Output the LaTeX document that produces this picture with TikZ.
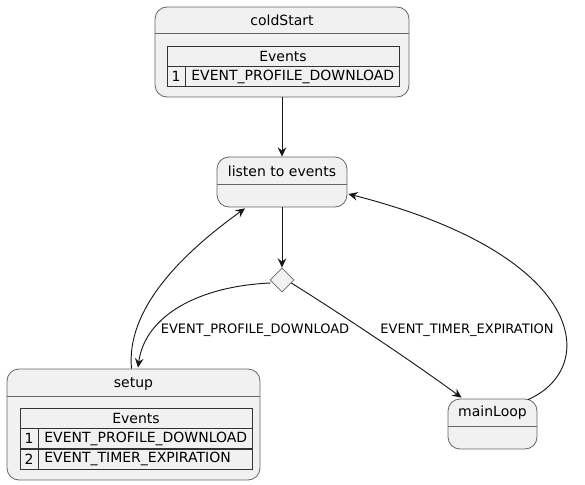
\documentclass[tikz,border=0pt]{standalone}
\usepackage{fontspec}
\setmainfont{DejaVu Sans}
\usepackage{xcolor}
\usetikzlibrary{shapes.geometric,arrows.meta,positioning,calc}
\definecolor{stategray}{HTML}{F1F1F1}
\definecolor{edgegray}{HTML}{181818}

\begin{document}
\begin{tikzpicture}[x=0.75pt, y=-0.75pt,
		state/.style={rectangle, draw=black!60, fill=stategray, line width=0.6pt, rounded corners=9pt, inner sep=0pt},
		sep/.style={draw=black!60, line width=0.6pt},
		title/.style={inner sep=0pt, font=\fontsize{10.5}{12}\selectfont},
		cell/.style={rectangle, draw=black!80, fill=stategray, line width=0.5pt, minimum height=15pt, inner sep=0pt, font=\fontsize{10.5}{12}\selectfont},
		celltext/.style={cell, text width=152pt, inner xsep=4.25pt, align=left},
		choicebox/.style={diamond, draw=black!60, fill=stategray, line width=0.6pt, minimum width=18pt, minimum height=18pt, inner sep=0pt},
		trans/.style={-{Stealth[length=7pt, width=6.5pt, inset=2.5pt]}, draw=edgegray, line width=0.7pt},
		lbl/.style={inner sep=0pt, font=\fontsize{9.75}{12}\selectfont}]

		\useasboundingbox (0,0) rectangle (585,485);

		% states
		\node [state, minimum width=190.5pt, minimum height=67.5pt] (coldStart) at (282,52) {};
		\node [state, minimum width=97.5pt, minimum height=37.5pt] (listen) at (282,182) {};
		\node [state, minimum width=189.75pt, minimum height=83.25pt] (setup) at (133.5,424.5) {};
		\node [state, minimum width=66.75pt, minimum height=37.5pt] (mainLoop) at (492.5,424) {};
		\node [choicebox] (choice) at (282,280) {};

		\draw [sep] (coldStart.west |- 0,33) -- (coldStart.east |- 0,33);
		\draw [sep] (listen.west |- 0,184) -- (listen.east |- 0,184);
		\draw [sep] (setup.west |- 0,396) -- (setup.east |- 0,396);
		\draw [sep] (mainLoop.west |- 0,426) -- (mainLoop.east |- 0,426);

		\node [title] (coldStart-name) at (282,20) {coldStart};
		\node [title] (listen-name) at (282,171) {listen to events};
		\node [title] (setup-name) at (133.5,384) {setup};
		\node [title] (mainLoop-name) at (492.5,413) {mainLoop};

		% event tables
		\node [cell, minimum width=174pt] (cold-head) at (283,56) {Events};
		\node [cell, minimum width=13.5pt, below right=0pt and 0pt of cold-head.south west] (cold-n1) {1};
		\node [celltext, right=0pt of cold-n1] (cold-e1) {EVENT\_PROFILE\_DOWNLOAD};

		\node [cell, minimum width=174pt] (setup-head) at (136,418) {Events};
		\node [cell, minimum width=13.5pt, below right=0pt and 0pt of setup-head.south west] (setup-n1) {1};
		\node [celltext, right=0pt of setup-n1] (setup-e1) {EVENT\_PROFILE\_DOWNLOAD};
		\node [cell, minimum width=13.5pt, below=0pt of setup-n1] (setup-n2) {2};
		\node [celltext, right=0pt of setup-n2] (setup-e2) {EVENT\_TIMER\_EXPIRATION};

		% transitions
		\draw [trans] (coldStart.south) -- (listen.north);
		\draw [trans] (listen.south) -- (choice.north);
		\draw [trans] ($(choice.west)+(1,3)$) .. controls (200,286) and (145,315) .. ($(setup.north)+(4.5,-1)$);
		\draw [trans] ($(choice.east)+(-3,3)$) .. controls (350,320) and (410,360) .. ($(mainLoop.north)+(-31,-1)$);
		\draw [trans] ($(setup.north)+(-2,0)$) .. controls (126,310) and (180,255) .. ($(listen.south)+(-37,1)$);
		\draw [trans] ($(mainLoop.north)+(35.5,1)$) .. controls (600,368) and (588,255) .. ($(listen.east)+(1,12)$);

		\node [lbl] (profile-lbl) at (255,330) {EVENT\_PROFILE\_DOWNLOAD};
		\node [lbl] (timer-lbl) at (467,330) {EVENT\_TIMER\_EXPIRATION};

	\end{tikzpicture}
\end{document}
